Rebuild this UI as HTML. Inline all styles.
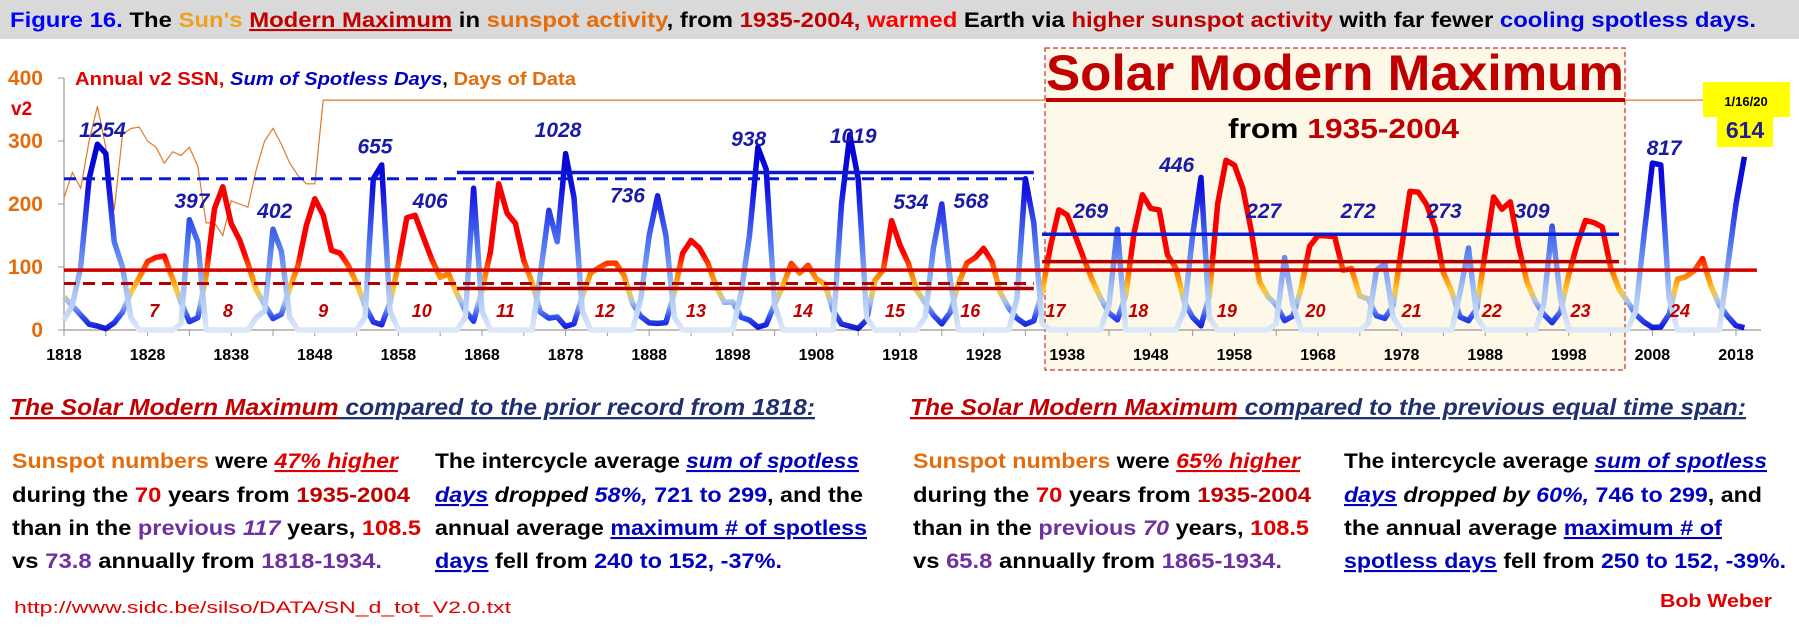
<!DOCTYPE html>
<html><head><meta charset="utf-8"><style>
html,body{margin:0;padding:0;background:#fff;}
svg{display:block;font-family:"Liberation Sans",sans-serif;}
</style></head><body>
<svg id="chart" width="1799" height="634" viewBox="0 0 1799 634" xmlns="http://www.w3.org/2000/svg">
<defs>
<linearGradient id="gSSN" gradientUnits="userSpaceOnUse" x1="0" y1="330" x2="0" y2="141">
<stop offset="0" stop-color="#1010d0"/><stop offset="0.07" stop-color="#3050f0"/><stop offset="0.15" stop-color="#a8c4ee"/><stop offset="0.21" stop-color="#ffc830"/><stop offset="0.3" stop-color="#ff7a00"/><stop offset="0.4" stop-color="#ff0000"/><stop offset="1" stop-color="#ee0000"/>
</linearGradient>
<linearGradient id="gSpot" gradientUnits="userSpaceOnUse" x1="0" y1="330" x2="0" y2="141">
<stop offset="0" stop-color="#dce8f8"/><stop offset="0.2" stop-color="#a8c4f4"/><stop offset="0.45" stop-color="#5078f0"/><stop offset="0.75" stop-color="#1010e0"/><stop offset="1" stop-color="#0000d0"/>
</linearGradient>
</defs>
<rect x="0" y="0" width="1799" height="39" fill="#d9d9d9"/>
<text x="10" y="27" font-size="21" font-weight="bold" textLength="1746" lengthAdjust="spacingAndGlyphs"><tspan fill="#0000ff">Figure 16.</tspan><tspan fill="#000"> The </tspan><tspan fill="#f0a020">Sun's</tspan><tspan fill="#000"> </tspan><tspan fill="#c00000" text-decoration="underline">Modern Maximum</tspan><tspan fill="#000"> in </tspan><tspan fill="#e46c0a">sunspot activity</tspan><tspan fill="#000">, from </tspan><tspan fill="#c00000">1935-2004, </tspan><tspan fill="#ff0000">warmed</tspan><tspan fill="#000"> Earth via </tspan><tspan fill="#c00000">higher sunspot activity</tspan><tspan fill="#000"> with far fewer </tspan><tspan fill="#0000e0">cooling spotless days.</tspan></text>

<rect x="1045" y="48" width="580" height="322" fill="#fdf8e8" stroke="#c00000" stroke-width="1" stroke-dasharray="5,3"/>
<g id="plot"></g>
<text x="1046" y="90" font-size="50" font-weight="bold" fill="#c00000" textLength="578" lengthAdjust="spacingAndGlyphs">Solar Modern Maximum</text>
<rect x="1046" y="98" width="579" height="4" fill="#c00000"/>
<text x="1228" y="138" font-size="28" font-weight="bold" textLength="231" lengthAdjust="spacingAndGlyphs"><tspan fill="#000">from </tspan><tspan fill="#c00000">1935-2004</tspan></text>

<text x="75" y="85" font-size="18" font-weight="bold" textLength="501" lengthAdjust="spacingAndGlyphs"><tspan fill="#e00000">Annual v2 SSN, </tspan><tspan fill="#0000c0" font-style="italic">Sum of Spotless Days</tspan><tspan fill="#000">, </tspan><tspan fill="#e46c0a">Days of Data</tspan></text>
<text x="11" y="115" font-size="19" font-weight="bold" fill="#e00000">v2</text>

<g>
<rect x="1703" y="82" width="87" height="35" fill="#ffff00"/>
<rect x="1717" y="116" width="56" height="31" fill="#ffff00"/>
<text x="1746" y="106" font-size="13" font-weight="bold" text-anchor="middle" fill="#000">1/16/20</text>
<text x="1745" y="138" font-size="23" font-weight="bold" text-anchor="middle" fill="#1f1f8f">614</text>
</g>

<g font-weight="bold" font-size="21">
<text x="10" y="415" font-size="23" font-style="italic" textLength="805" lengthAdjust="spacingAndGlyphs"><tspan fill="#c00000" text-decoration="underline">The Solar Modern Maximum</tspan><tspan fill="#1f2f6f" text-decoration="underline"> compared to the prior record from 1818:</tspan></text>
<text x="12" y="468" textLength="386" lengthAdjust="spacingAndGlyphs"><tspan fill="#e46c0a">Sunspot numbers</tspan><tspan fill="#000"> were </tspan><tspan fill="#e00000" font-style="italic" text-decoration="underline">47% higher</tspan></text>
<text x="12" y="502" textLength="398" lengthAdjust="spacingAndGlyphs"><tspan fill="#000">during the </tspan><tspan fill="#e00000">70</tspan><tspan fill="#000"> years from </tspan><tspan fill="#c00000">1935-2004</tspan></text>
<text x="12" y="535" textLength="409" lengthAdjust="spacingAndGlyphs"><tspan fill="#000">than in the </tspan><tspan fill="#7030a0">previous </tspan><tspan fill="#7030a0" font-style="italic">117</tspan><tspan fill="#000"> years, </tspan><tspan fill="#e00000">108.5</tspan></text>
<text x="12" y="568" textLength="370" lengthAdjust="spacingAndGlyphs"><tspan fill="#000">vs </tspan><tspan fill="#7030a0">73.8</tspan><tspan fill="#000"> annually from </tspan><tspan fill="#7030a0">1818-1934.</tspan></text>
<text x="435" y="468" textLength="424" lengthAdjust="spacingAndGlyphs"><tspan fill="#000">The intercycle average </tspan><tspan fill="#0000c0" font-style="italic" text-decoration="underline">sum of spotless</tspan></text>
<text x="435" y="502" textLength="428" lengthAdjust="spacingAndGlyphs"><tspan fill="#0000c0" font-style="italic" text-decoration="underline">days</tspan><tspan fill="#000" font-style="italic"> dropped </tspan><tspan fill="#0000c0" font-style="italic">58%,</tspan><tspan fill="#0000c0"> 721 to 299</tspan><tspan fill="#000">, and the</tspan></text>
<text x="435" y="535" textLength="432" lengthAdjust="spacingAndGlyphs"><tspan fill="#000">annual average </tspan><tspan fill="#0000c0" text-decoration="underline">maximum # of spotless</tspan></text>
<text x="435" y="568" textLength="347" lengthAdjust="spacingAndGlyphs"><tspan fill="#0000c0" text-decoration="underline">days</tspan><tspan fill="#000"> fell from </tspan><tspan fill="#0000c0">240 to 152, -37%.</tspan></text>
</g>
<g font-weight="bold" font-size="21">
<text x="910" y="415" font-size="23" font-style="italic" textLength="836" lengthAdjust="spacingAndGlyphs"><tspan fill="#c00000" text-decoration="underline">The Solar Modern Maximum</tspan><tspan fill="#1f2f6f" text-decoration="underline"> compared to the previous equal time span:</tspan></text>
<text x="913" y="468" textLength="387" lengthAdjust="spacingAndGlyphs"><tspan fill="#e46c0a">Sunspot numbers</tspan><tspan fill="#000"> were </tspan><tspan fill="#e00000" font-style="italic" text-decoration="underline">65% higher</tspan></text>
<text x="913" y="502" textLength="398" lengthAdjust="spacingAndGlyphs"><tspan fill="#000">during the </tspan><tspan fill="#e00000">70</tspan><tspan fill="#000"> years from </tspan><tspan fill="#c00000">1935-2004</tspan></text>
<text x="913" y="535" textLength="396" lengthAdjust="spacingAndGlyphs"><tspan fill="#000">than in the </tspan><tspan fill="#7030a0">previous </tspan><tspan fill="#7030a0" font-style="italic">70</tspan><tspan fill="#000"> years, </tspan><tspan fill="#e00000">108.5</tspan></text>
<text x="913" y="568" textLength="369" lengthAdjust="spacingAndGlyphs"><tspan fill="#000">vs </tspan><tspan fill="#7030a0">65.8</tspan><tspan fill="#000"> annually from </tspan><tspan fill="#7030a0">1865-1934.</tspan></text>
<text x="1344" y="468" textLength="423" lengthAdjust="spacingAndGlyphs"><tspan fill="#000">The intercycle average </tspan><tspan fill="#0000c0" font-style="italic" text-decoration="underline">sum of spotless</tspan></text>
<text x="1344" y="502" textLength="418" lengthAdjust="spacingAndGlyphs"><tspan fill="#0000c0" font-style="italic" text-decoration="underline">days</tspan><tspan fill="#000" font-style="italic"> dropped by </tspan><tspan fill="#0000c0" font-style="italic">60%,</tspan><tspan fill="#0000c0"> 746 to 299</tspan><tspan fill="#000">, and</tspan></text>
<text x="1344" y="535" textLength="378" lengthAdjust="spacingAndGlyphs"><tspan fill="#000">the annual average </tspan><tspan fill="#0000c0" text-decoration="underline">maximum # of</tspan></text>
<text x="1344" y="568" textLength="442" lengthAdjust="spacingAndGlyphs"><tspan fill="#0000c0" text-decoration="underline">spotless days</tspan><tspan fill="#000"> fell from </tspan><tspan fill="#0000c0">250 to 152, -39%.</tspan></text>
</g>
<text x="14" y="613" font-size="17" fill="#e00000" textLength="497" lengthAdjust="spacingAndGlyphs">http://www.sidc.be/silso/DATA/SN_d_tot_V2.0.txt</text>
<text x="1660" y="607" font-size="18" font-weight="bold" fill="#e00000" textLength="112" lengthAdjust="spacingAndGlyphs">Bob Weber</text>
</svg>
<script>
const startYear = 1818;
const ssn = [52.9,38.5,24.2,9.2,6.3,2.2,11.4,28.2,59.9,83.0,
108.5,115.2,117.4,80.8,44.3,13.4,19.5,85.8,192.7,227.3,
168.7,143.0,105.5,63.3,40.3,18.1,25.1,65.8,102.7,166.3,
208.3,182.5,126.3,122.0,102.7,74.1,39.0,12.7,8.2,43.4,
104.4,178.3,182.2,146.6,112.1,83.5,89.2,57.8,30.7,13.9,
62.8,123.6,232.0,185.3,169.2,110.1,74.5,28.3,18.9,20.7,
5.7,10.0,53.7,90.5,99.0,106.1,105.8,86.3,42.4,21.8,
11.2,10.4,11.8,59.5,121.7,142.0,130.0,106.6,69.4,43.8,
44.4,20.2,15.7,4.6,8.5,40.8,70.1,105.5,90.1,102.8,
80.9,73.2,30.9,9.5,6.0,2.4,16.1,79.0,95.0,173.6,
134.6,105.7,62.7,43.5,23.7,9.7,27.9,74.0,106.5,114.7,
129.7,108.2,59.4,35.1,18.6,9.2,14.6,60.2,132.8,190.6,
182.6,148.0,113.0,79.2,50.8,27.1,16.1,55.3,154.3,214.7,
193.0,190.7,118.9,98.3,45.0,20.1,6.6,54.2,200.7,269.3,
261.7,225.1,159.0,76.4,53.4,39.9,15.0,22.0,66.8,132.9,
150.2,149.4,148.0,94.4,97.6,54.1,49.2,22.5,18.4,39.3,
131.0,220.1,218.9,198.9,162.4,91.0,60.5,20.6,14.8,33.9,
123.0,211.1,191.8,203.3,133.0,76.1,44.9,25.1,11.6,28.9,
88.3,136.3,173.9,170.4,163.6,99.3,65.3,45.8,24.7,12.6,
4.2,4.8,24.9,80.8,84.5,94.0,113.3,69.8,39.8,21.7,
7.0,3.6];
const spotless = [15,40,100,240,295,280,140,100,20,0,
0,0,0,0,10,175,140,0,0,0,
0,0,0,20,30,160,125,20,0,0,
0,0,0,0,0,0,20,240,262,30,
0,0,0,0,0,0,0,0,20,225,
30,0,0,0,0,0,0,90,190,140,
280,210,30,0,0,0,0,0,0,50,
150,213,150,20,0,0,0,0,0,0,
0,60,150,290,255,40,0,0,0,0,
0,0,0,200,310,240,20,0,0,0,
0,0,0,20,130,200,80,0,0,0,
0,0,0,0,50,240,170,10,0,0,
0,0,0,0,0,40,160,0,0,0,
0,0,0,0,30,150,242,20,0,0,
0,0,0,0,0,10,115,40,0,0,
0,0,0,0,0,0,10,95,105,20,
0,0,0,0,0,0,0,60,130,20,
0,0,0,0,0,0,0,40,165,50,
0,0,0,0,0,0,0,0,30,150,
265,262,50,0,0,0,0,0,0,100,
200,275];
const daysOfDataEarly = [210,250,225,300,355,290,190,310,320,322,
300,290,265,283,277,290,260,170,170,150,
205,200,195,255,300,320,295,265,245,232,232];
const daysOfDataFull = 365;
const yTicks = [0,100,200,300,400];
const xTickLabels = [1818,1828,1838,1848,1858,1868,1878,1888,1898,1908,1918,1928,1938,1948,1958,1968,1978,1988,1998,2008,2018];
const refValues = [95,73.8,65.8,108.5,240,250,152];
const refFrom = [1818,1818,1865,1935,1818,1865,1935];
const refTo = [2020.5,1934,1934,2004,1934,1934,2004];
const cycleNumbers = ["7","8","9","10","11","12","13","14","15","16","17","18","19","20","21","22","23","24"];
const cycleYears = [1828.8,1837.6,1849,1860.8,1870.8,1882.7,1893.6,1906.4,1917.4,1926.4,1936.6,1946.5,1957.1,1967.7,1979.2,1988.8,1999.4,2011.3];
const spotLabels = ["1254","397","402","655","406","1028","736","938","1019","534","568","269","446","227","272","273","309","817"];
const spotLabelYears = [1822.6,1833.3,1843.2,1855.2,1861.8,1877.1,1885.4,1899.9,1912.4,1919.3,1926.5,1940.8,1951.1,1961.5,1972.8,1983.1,1993.6,2009.4];
const spotLabelValues = [306,194,178,280,194,306,202,292,297,192,194,178,251,178,178,178,178,278];

const NS = "http://www.w3.org/2000/svg";
const plot = document.getElementById('plot');
const x = yr => 64 + (yr - 1818) * 8.36;
const y = v => 330 - v * 0.63;
function mk(tag, attrs, parent) {
  const e = document.createElementNS(NS, tag);
  for (const k in attrs) e.setAttribute(k, attrs[k]);
  (parent || plot).appendChild(e);
  return e;
}
function pathOf(vals) {
  return vals.map((v, i) => (i ? 'L' : 'M') + x(startYear + i).toFixed(1) + ',' + y(v).toFixed(1)).join('');
}
let ax = mk('line', {x1: x(1818), y1: y(0), x2: x(2021), y2: y(0), stroke: '#999', 'stroke-width': 1.2});


let ay = mk('line', {x1: x(1818), y1: y(0), x2: x(1818), y2: y(400), stroke: '#999', 'stroke-width': 1.2});


yTicks.forEach(t => {
  mk('line', {x1: x(1818) - 6, x2: x(1818), y1: y(t), y2: y(t), stroke: '#999'});
  const lb = mk('text', {x: 43, y: y(t) + 7, 'text-anchor': 'end', 'font-size': 21, 'font-weight': 'bold', fill: '#e46c0a'});
  lb.textContent = t;
  
  
});
for (let yr = 1818; yr <= 2018; yr += 5) {
  mk('line', {x1: x(yr), x2: x(yr), y1: y(0), y2: y(0) + 6, stroke: '#999'});
}
xTickLabels.forEach(t => {
  const lb = mk('text', {x: x(t), y: 360, 'text-anchor': 'middle', 'font-size': 16, 'font-weight': 'bold', fill: '#000'});
  lb.textContent = t;
  
  
});
const daysOfData = ssn.map((v, i) => i < daysOfDataEarly.length ? daysOfDataEarly[i] : daysOfDataFull);
let dd = mk('path', {d: pathOf(daysOfData), fill: 'none', stroke: '#e07a2a', 'stroke-width': 1.2});


let sp = mk('path', {d: pathOf(ssn), fill: 'none', stroke: 'url(#gSSN)', 'stroke-width': 5.5, 'stroke-linejoin': 'round'});


let sd = mk('path', {d: pathOf(spotless), fill: 'none', stroke: 'url(#gSpot)', 'stroke-width': 5.5, 'stroke-linejoin': 'round'});


refValues.forEach((v, i) => {
  const blue = i >= 4;
  const dashed = (i === 1 || i === 4);
  const col = blue ? '#0a1ad0' : (i === 0 ? '#d00000' : '#b00000');
  const ln = mk('line', {x1: x(refFrom[i]), x2: x(refTo[i]), y1: y(v), y2: y(v), stroke: col, 'stroke-width': dashed ? 3 : 3.5});
  if (dashed) ln.setAttribute('stroke-dasharray', '12,7');
  
  
});
cycleNumbers.forEach((c, i) => {
  const t = mk('text', {x: x(cycleYears[i]), y: 317, 'text-anchor': 'middle', 'font-size': 18, 'font-weight': 'bold', 'font-style': 'italic', fill: '#c00000'});
  t.textContent = c;
  
  
});
spotLabels.forEach((s, i) => {
  const t = mk('text', {x: x(spotLabelYears[i]), y: y(spotLabelValues[i]), 'text-anchor': 'middle', 'font-size': 21, 'font-weight': 'bold', 'font-style': 'italic', fill: '#1a1aa8'});
  t.textContent = s;
  
  
});
</script>
</body></html>
